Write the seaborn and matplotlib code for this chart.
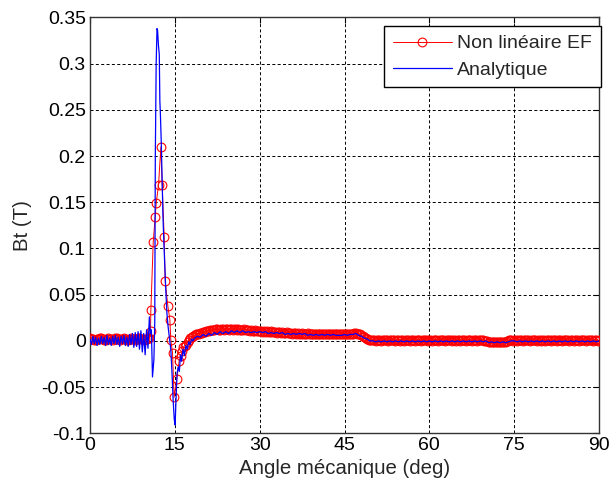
import numpy as np
import pandas as pd
import matplotlib
matplotlib.use("Agg")
import matplotlib.pyplot as plt
import seaborn as sns

# ---------------- data ----------------
# Non linéaire EF (red circles)
ef_x_a = np.arange(0.0, 10.51, 0.25)
ef_y_a = [0.003, 0.002, 0.002, 0.001, 0.001, 0.002, 0.002, 0.003, 0.003, 0.002,
          0.001, 0.001, 0.002, 0.003, 0.002, 0.002, 0.001, 0.002, 0.003, 0.003,
          0.002, 0.001, 0.002, 0.002, 0.003, 0.002, 0.001, 0.001, 0.002, 0.003,
          0.002, 0.002, 0.001, 0.002, 0.003, 0.003, 0.002, 0.002, 0.001, 0.002,
          0.002, 0.003, 0.003]
ef_x_b = [10.7, 10.76, 11.18, 11.53, 11.71, 12.12, 12.53, 12.76, 13.12, 13.29,
          13.76, 14.12, 14.29, 14.59, 14.88, 15.35, 15.76, 16.06, 16.35]
ef_y_b = [0.011, 0.033, 0.107, 0.134, 0.149, 0.169, 0.210, 0.169, 0.112, 0.065,
          0.038, 0.023, 0.001, -0.013, -0.061, -0.041, -0.022, -0.016, -0.011]
ef_x_c = np.arange(16.5, 29.76, 0.25)
ef_y_c = [-0.007, -0.005, -0.004, -0.001, 0.001, 0.003, 0.004, 0.005, 0.006, 0.007,
          0.008, 0.008, 0.009, 0.009, 0.010, 0.010, 0.011, 0.011, 0.011, 0.012,
          0.012, 0.012, 0.012, 0.013, 0.013, 0.012, 0.012, 0.013, 0.013, 0.012,
          0.013, 0.013, 0.012, 0.013, 0.013, 0.012, 0.013, 0.013, 0.012, 0.013,
          0.012, 0.012, 0.012, 0.013, 0.012, 0.012, 0.012, 0.011, 0.012, 0.011,
          0.011, 0.012, 0.011, 0.011]
ef_x_d = np.arange(30.0, 49.76, 0.25)
ef_y_d = [0.011, 0.011, 0.010, 0.011, 0.010, 0.011, 0.010, 0.010, 0.011, 0.010,
          0.010, 0.010, 0.009, 0.010, 0.010, 0.009, 0.010, 0.009, 0.009, 0.010,
          0.009, 0.009, 0.009, 0.008, 0.009, 0.009, 0.008, 0.009, 0.008, 0.008,
          0.009, 0.008, 0.008, 0.008, 0.009, 0.008, 0.008, 0.008, 0.008, 0.008,
          0.008, 0.007, 0.008, 0.008, 0.007, 0.008, 0.007, 0.007, 0.008, 0.007,
          0.007, 0.007, 0.007, 0.008, 0.007, 0.007, 0.007, 0.007, 0.007, 0.007,
          0.007, 0.007, 0.007, 0.007, 0.007, 0.008, 0.008, 0.009, 0.009, 0.008,
          0.008, 0.007, 0.006, 0.005, 0.004, 0.003, 0.002, 0.001, 0.001, 0.001]
ef_x_e = np.arange(50.0, 90.01, 0.25)
ef_y_e = [0.001, 0.001, 0.000, 0.001, 0.001, 0.001, 0.000, 0.001, 0.001, 0.001,
          0.001, 0.000, 0.001, 0.001, 0.001, 0.001, 0.000, 0.001, 0.001, 0.000,
          0.001, 0.001, 0.000, 0.001, 0.001, 0.001, 0.000, 0.001, 0.001, 0.001,
          0.000, 0.001, 0.001, 0.001, 0.000, 0.001, 0.001, 0.001, 0.001, 0.000,
          0.001, 0.001, 0.000, 0.001, 0.001, 0.001, 0.000, 0.001, 0.001, 0.001,
          0.001, 0.000, 0.001, 0.001, 0.001, 0.001, 0.000, 0.001, 0.001, 0.000,
          0.001, 0.001, 0.000, 0.001, 0.001, 0.001, 0.000, 0.001, 0.001, 0.001,
          0.000, 0.001, 0.001, 0.001, 0.000, 0.001, 0.001, 0.001, 0.001, 0.000,
          0.000, 0.000, -0.001, -0.001, -0.001, -0.001, -0.001, -0.001, -0.001, -0.001,
          -0.001, -0.001, -0.001, -0.001, -0.001, 0.000, 0.001, 0.001, 0.001, 0.000,
          0.001, 0.001, 0.000, 0.001, 0.001, 0.001, 0.000, 0.001, 0.001, 0.001,
          0.001, 0.000, 0.001, 0.001, 0.001, 0.001, 0.000, 0.001, 0.001, 0.000,
          0.001, 0.001, 0.000, 0.001, 0.001, 0.001, 0.000, 0.001, 0.001, 0.001,
          0.000, 0.001, 0.001, 0.001, 0.000, 0.001, 0.001, 0.001, 0.001, 0.000,
          0.001, 0.001, 0.000, 0.001, 0.001, 0.001, 0.000, 0.001, 0.001, 0.001,
          0.001, 0.000, 0.001, 0.001, 0.001, 0.001, 0.000, 0.001, 0.001, 0.000,
          0.001]

# Analytique (blue line)
an_x_a = np.arange(0.0, 10.51, 0.25)
an_y_a = [0.002, -0.004, 0.005, -0.003, 0.004, -0.005, 0.003, -0.004, 0.005, -0.003,
          0.004, -0.005, 0.006, -0.004, 0.003, -0.005, 0.005, -0.003, 0.006, -0.004,
          0.004, -0.006, 0.005, -0.003, 0.006, -0.005, 0.004, -0.006, 0.007, -0.004,
          0.008, -0.007, 0.009, -0.006, 0.010, -0.009, 0.011, -0.012, 0.008, -0.015,
          0.012, -0.008, 0.026]
an_x_b = [10.65, 10.85, 11.05, 11.3, 11.45, 11.55, 11.7, 11.85, 11.95, 12.1,
          12.25, 12.35, 12.45, 12.6, 12.9, 13.1, 13.4, 13.6, 13.8, 14.05,
          14.3, 14.5, 14.7, 14.9, 15.05, 15.2, 15.4, 15.6, 15.8, 16.0,
          16.2, 16.45, 16.7, 16.95, 17.2, 17.45, 17.7, 17.95, 18.2]
an_y_b = [0.008, 0.012, -0.039, -0.02, 0.02, 0.2, 0.30, 0.338, 0.336, 0.32,
          0.31, 0.26, 0.245, 0.215, 0.135, 0.100, 0.055, 0.030, 0.016, 0.003,
          -0.010, -0.035, -0.064, -0.085, -0.091, -0.065, -0.035, -0.028, -0.033, -0.015,
          -0.022, -0.009, -0.016, -0.005, -0.009, -0.001, -0.004, 0.002, 0.000]
an_x_c = np.arange(18.5, 90.01, 0.5)
an_y_c = [0.003, 0.005, 0.004, 0.007, 0.005, 0.008, 0.006, 0.009,
          0.007, 0.010, 0.008, 0.010, 0.008, 0.011, 0.009, 0.011,
          0.009, 0.011, 0.009, 0.010, 0.009, 0.010, 0.009, 0.010,
          0.009, 0.010, 0.008, 0.009, 0.008, 0.009, 0.008, 0.009,
          0.007, 0.008, 0.007, 0.008, 0.007, 0.008, 0.007, 0.008,
          0.006, 0.007, 0.006, 0.007, 0.006, 0.007, 0.006, 0.007,
          0.006, 0.007, 0.006, 0.006, 0.006, 0.007, 0.006, 0.007,
          0.007, 0.008, 0.006, 0.005, 0.003, 0.002, 0.000, 0.000,
          -0.001, 0.000, -0.001, 0.000, -0.001, 0.000, -0.001, 0.000, -0.001, 0.000,
          -0.001, 0.000, -0.001, 0.000, -0.001, 0.000, -0.001, 0.000, -0.001, 0.000,
          -0.001, 0.000, -0.001, 0.000, -0.001, 0.000, -0.001, 0.000, -0.001, 0.000,
          -0.001, 0.000, -0.001, 0.000, -0.001, 0.000, -0.001, 0.000, -0.001, 0.000,
          -0.002, -0.001, -0.002, -0.001, -0.002, -0.001, -0.002, -0.001, 0.000, 0.000,
          -0.001, 0.000, -0.001, 0.000, -0.001, 0.000, -0.001, 0.000, -0.001, 0.000,
          -0.001, 0.000, -0.001, 0.000, -0.001, 0.000, -0.001, 0.000, -0.001, 0.000,
          -0.001, 0.000, -0.001, 0.000, -0.001, 0.000, -0.001, 0.000, -0.001, 0.000]

x_ticks = [0, 15, 30, 45, 60, 75, 90]
y_ticks = [-0.1, -0.05, 0, 0.05, 0.1, 0.15, 0.2, 0.25, 0.3, 0.35]
y_tick_labels = ["-0.1", "-0.05", "0", "0.05", "0.1", "0.15", "0.2", "0.25", "0.3", "0.35"]
x_label = "Angle mécanique (deg)"
y_label = "Bt (T)"
labels = ["Non linéaire EF", "Analytique"]

ef = pd.DataFrame({"x": np.concatenate([ef_x_a, ef_x_b, ef_x_c, ef_x_d, ef_x_e]),
                   "y": np.concatenate([ef_y_a, ef_y_b, ef_y_c, ef_y_d, ef_y_e])})
an = pd.DataFrame({"x": np.concatenate([an_x_a, an_x_b, an_x_c]),
                   "y": np.concatenate([an_y_a, an_y_b, an_y_c])})

# ---------------- plotting ----------------
sns.set_theme(style="white")
plt.rcParams["font.family"] = ["Liberation Sans", "DejaVu Sans"]

fig = plt.figure(figsize=(6.09, 4.86), dpi=100)
fig.patch.set_facecolor("white")
ax = fig.add_axes([90 / 609, (486 - 433.3) / 486, 509 / 609, (433.3 - 17.5) / 486])
ax.set_facecolor("white")

sns.lineplot(data=ef, x="x", y="y", ax=ax, sort=False, estimator=None,
             color="red", linewidth=0.7, marker="o", markersize=6.3,
             markerfacecolor="none", markeredgecolor="red", markeredgewidth=0.8,
             label=labels[0], zorder=3)
sns.lineplot(data=an, x="x", y="y", ax=ax, sort=False, estimator=None,
             color="blue", linewidth=0.9, label=labels[1], zorder=4)

ax.set_xlim(0, 90)
ax.set_ylim(-0.1, 0.35)
ax.set_xticks(x_ticks)
ax.set_yticks(y_ticks)
ax.set_yticklabels(y_tick_labels)
ax.set_xlabel(x_label, fontsize=14.7, labelpad=3)
ax.set_ylabel(y_label, fontsize=14.7, labelpad=7)
ax.tick_params(axis="both", labelsize=14, direction="in", length=4, width=0.8,
               top=True, right=True, colors="black", pad=3)
for sp in ax.spines.values():
    sp.set_visible(True)
    sp.set_color("#333333")
    sp.set_linewidth(1.0)

ax.grid(True, color="black", linewidth=0.7, linestyle=(0, (3.1, 2.4)))
ax.set_axisbelow(True)

leg = ax.legend(loc="upper right", bbox_to_anchor=(601 / 609, (486 - 26) / 486),
                bbox_transform=fig.transFigure, fontsize=14, frameon=True,
                fancybox=False, framealpha=1, edgecolor="black", numpoints=1,
                handlelength=3.0, handletextpad=0.3, labelspacing=0.45,
                borderpad=0.45, borderaxespad=0)
leg.get_frame().set_linewidth(1.0)

fig.savefig("out.png", dpi=100)
